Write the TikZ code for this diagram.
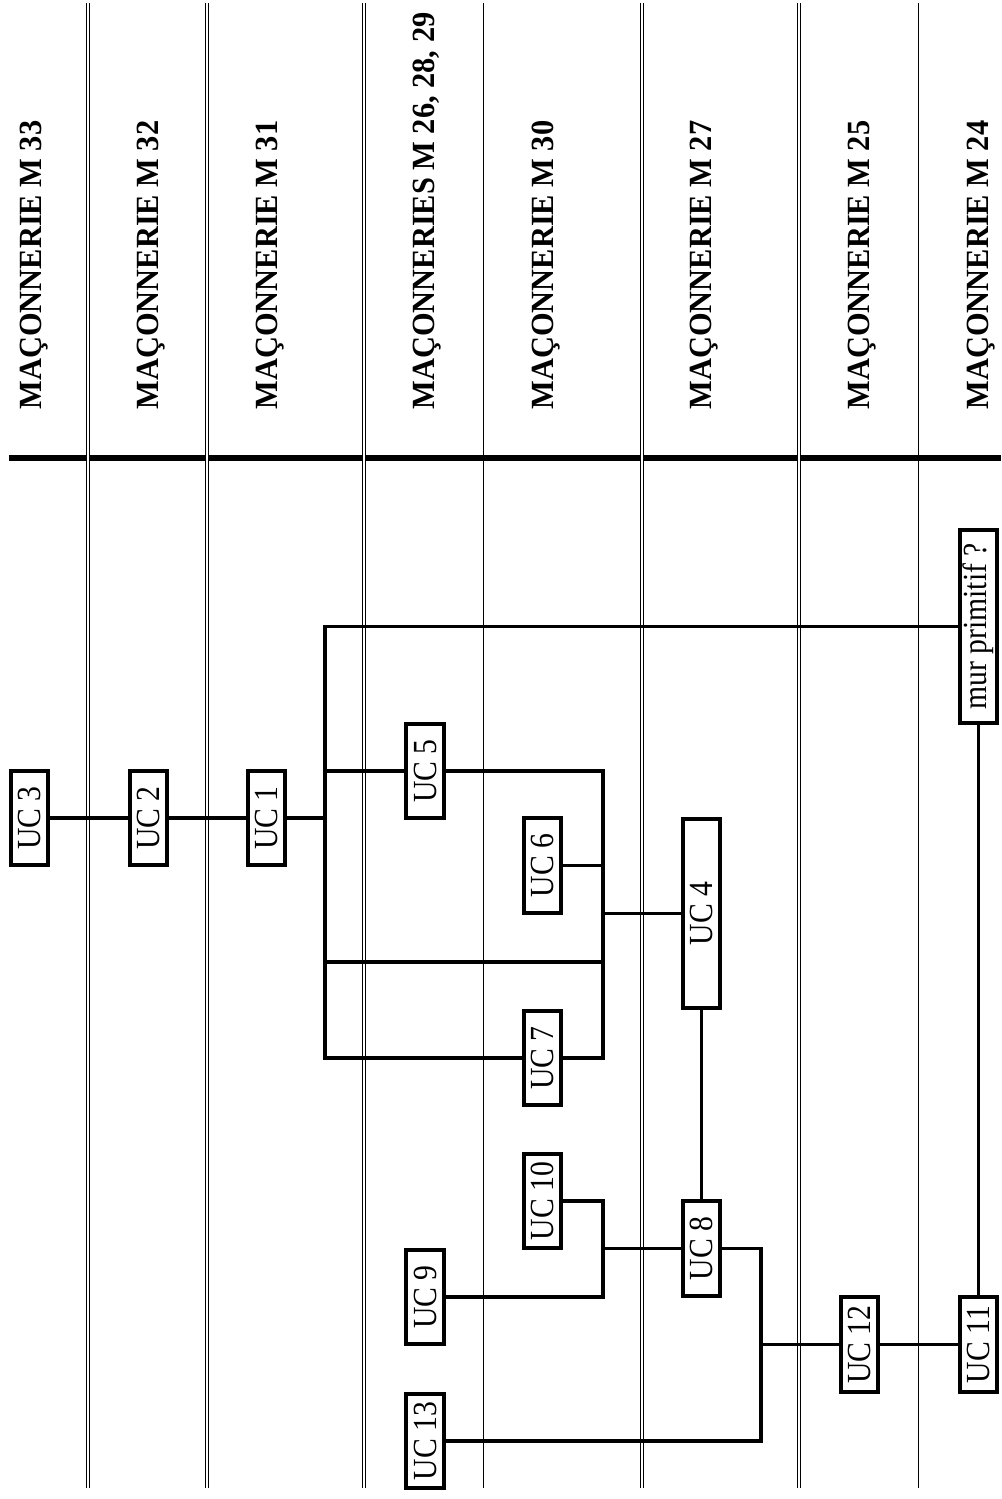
\documentclass[tikz,border=0pt]{standalone}
\usepackage{fontspec}
\setmainfont{Liberation Serif}
\newfontfamily\ucfont[FakeStretch=0.88]{Liberation Serif}
\newfontfamily\headfont[FakeStretch=0.94]{Liberation Serif}

\begin{document}
\begin{tikzpicture}
  \tikzset{
    ucbox/.style={rectangle, draw, line width=1.1pt, rotate=90, inner sep=0pt, minimum width=9.45mm, minimum height=3.75mm, font=\ucfont\fontsize{9.6}{11}\selectfont},
    link/.style={line width=1.1pt},
    heading/.style={rotate=90, anchor=base west, inner sep=0pt, font=\headfont\bfseries\fontsize{9.2}{11}\selectfont},
    divider/.style={line width=1.45pt},
    sepdouble/.style={double, double distance=0.55pt, line width=0.3pt},
    sepsingle/.style={line width=0.45pt}
  }
  \useasboundingbox (0,0) rectangle (10.01,-14.99);

  % masonry headings
  \foreach \x/\id/\lab in {0.415/m33/{MAÇONNERIE M 33},1.58/m32/{MAÇONNERIE M 32},2.775/m31/{MAÇONNERIE M 31},4.345/m26/{MAÇONNERIES M 26, 28, 29},5.535/m30/{MAÇONNERIE M 30},7.115/m27/{MAÇONNERIE M 27},8.695/m25/{MAÇONNERIE M 25},9.88/m24/{MAÇONNERIE M 24}} {
    \node[heading] (\id) at (\x,-4.10) {\lab};
  }
  \draw[divider] (0.09,-4.58) -- (10.01,-4.58);
  \foreach \x in {0.883,2.067,3.643,6.417,7.993} {
    \draw[sepdouble] (\x,-0.03) -- (\x,-14.88);
  }
  \foreach \x in {4.833,9.183} {
    \draw[sepsingle] (\x,-0.03) -- (\x,-14.88);
  }

  % units
  \node[ucbox] (uc3) at (0.295,-8.18) {UC 3};
  \node[ucbox] (uc2) at (1.485,-8.18) {UC 2};
  \node[ucbox] (uc1) at (2.665,-8.18) {UC 1};
  \node[ucbox] (uc5) at (4.25,-7.71) {UC 5};
  \node[ucbox] (uc6) at (5.425,-8.655) {UC 6};
  \node[ucbox] (uc7) at (5.425,-10.58) {UC 7};
  \node[ucbox, minimum width=18.95mm] (uc4) at (7.015,-9.135) {UC 4};
  \node[ucbox] (uc10) at (5.425,-12.01) {UC 10};
  \node[ucbox] (uc9) at (4.25,-12.97) {UC 9};
  \node[ucbox] (uc8) at (7.015,-12.485) {UC 8};
  \node[ucbox] (uc13) at (4.25,-14.41) {UC 13};
  \node[ucbox] (uc12) at (8.595,-13.445) {UC 12};
  \node[ucbox] (uc11) at (9.785,-13.445) {UC 11};
  \node[ucbox, minimum width=19.25mm] (mur) at (9.785,-6.265) {mur primitif ?};

  % bus points
  \coordinate (b1a) at (3.25,-8.18);
  \coordinate (b1b) at (3.25,-7.71);
  \coordinate (b1c) at (3.25,-9.62);
  \coordinate (b1d) at (3.25,-10.58);
  \coordinate (b2t) at (6.03,-7.71);
  \coordinate (b2a) at (6.03,-8.655);
  \coordinate (b2b) at (6.03,-9.135);
  \coordinate (b2c) at (6.03,-9.62);
  \coordinate (b3a) at (6.03,-12.485);
  \coordinate (b3b) at (6.03,-12.97);
  \coordinate (b4a) at (7.61,-13.445);
  \coordinate (b4b) at (7.61,-14.41);

  \draw[link] (uc3) -- (uc2);
  \draw[link] (uc2) -- (uc1);
  \draw[link] (uc1) -- (b1a);
  \draw[link] (mur) -| (b1d) -- (uc7);
  \draw[link] (uc5) -- (b1b);
  \draw[link] (uc7) -| (b2t) -- (uc5);
  \draw[link] (b1c) -- (b2c);
  \draw[link] (uc6) -- (b2a);
  \draw[link] (b2b) -- (uc4);
  \draw[link] (uc4) -- (uc8);
  \draw[link] (uc10) -| (b3b) -- (uc9);
  \draw[link] (b3a) -- (uc8);
  \draw[link] (uc8) -| (b4b) -- (uc13);
  \draw[link] (b4a) -- (uc12);
  \draw[link] (uc12) -- (uc11);
  \draw[link] (uc11) -- (mur);
\end{tikzpicture}
\end{document}
